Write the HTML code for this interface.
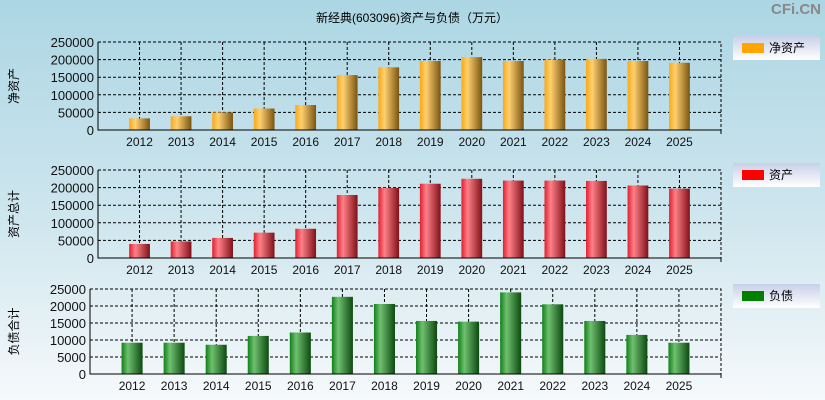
<!DOCTYPE html>
<html><head><meta charset="utf-8"><style>
body{margin:0;width:825px;height:400px;overflow:hidden;font-family:"Liberation Sans","Noto Sans CJK SC",sans-serif;}
#c{display:block;background:linear-gradient(#acd6e4,#cfe6ee 55%,#f6f9fb);}
</style></head><body>
<svg id="c" width="825" height="400" xmlns="http://www.w3.org/2000/svg">
<defs>
<linearGradient id="gO" x1="0" x2="1"><stop offset="0" stop-color="#f8a818"/><stop offset="0.3" stop-color="#ffd070"/><stop offset="1" stop-color="#7a5410"/></linearGradient>
<linearGradient id="gR" x1="0" x2="1"><stop offset="0" stop-color="#e02030"/><stop offset="0.3" stop-color="#ff8088"/><stop offset="1" stop-color="#801018"/></linearGradient>
<linearGradient id="gG" x1="0" x2="1"><stop offset="0" stop-color="#108018"/><stop offset="0.3" stop-color="#70c070"/><stop offset="1" stop-color="#0c4a10"/></linearGradient>
<linearGradient id="gL" x1="0" x2="0" y1="0" y2="1"><stop offset="0" stop-color="#c8d0e8"/><stop offset="1" stop-color="#ffffff"/></linearGradient>
</defs>
<text x="412" y="22" font-size="12" text-anchor="middle">新经典(603096)资产与负债（万元）</text>
<text x="821" y="14" font-size="15" font-weight="bold" fill="#888" text-anchor="end">CFi.CN</text>
<g id="g"></g>
</svg>
<script>
const years=["2012","2013","2014","2015","2016","2017","2018","2019","2020","2021","2022","2023","2024","2025"];
const netAssets=[33000,39000,50000,61000,71000,156000,178000,196000,207000,196000,200000,202000,196000,191000];
const totalAssets=[40000,47000,57000,72000,83000,179000,199000,211000,225000,220000,220000,219000,206000,197000];
const liabilities=[9200,9200,8600,11200,12200,22700,20600,15600,15400,24000,20500,15600,11500,9200];
const ticksBig=[0,50000,100000,150000,200000,250000];
const ticksSmall=[0,5000,10000,15000,20000,25000];
const NS="http://www.w3.org/2000/svg";
const g=document.getElementById('g');
function mk(t,a,p){const e=document.createElementNS(NS,t);for(const k in a)e.setAttribute(k,a[k]);(p||g).appendChild(e);return e;}
const panels=[
 {vals:netAssets,ticks:ticksBig,max:250000,x0:98,x1:721,y0:42,y1:130,fill:"url(#gO)",title:"净资产",legend:"净资产",lc:"#ffa500",ly:36,key:"net-assets"},
 {vals:totalAssets,ticks:ticksBig,max:250000,x0:98,x1:721,y0:170,y1:258,fill:"url(#gR)",title:"资产总计",legend:"资产",lc:"#ff0000",ly:163,key:"total-assets"},
 {vals:liabilities,ticks:ticksSmall,max:25000,x0:90,x1:721,y0:289,y1:374,fill:"url(#gG)",title:"负债合计",legend:"负债",lc:"#008000",ly:284,key:"liabilities"}
];
panels.forEach(p=>{
 const pg=mk('g',{});
 
 
 const slot=(p.x1-p.x0)/15;
 const X=i=>p.x0+(i+1)*slot;
 const Y=v=>p.y1-(v/p.max)*(p.y1-p.y0);
 p.ticks.forEach(t=>{
  if(t>0){const l=mk('line',{x1:p.x0,x2:p.x1,y1:Y(t),y2:Y(t),stroke:'#000','stroke-dasharray':'3,2','stroke-width':1},pg);
   }
  const tx=mk('text',{x:p.x0-4,y:Y(t)+5,'font-size':13,'text-anchor':'end',fill:'#111'},pg);tx.textContent=t;
  
 });
 years.forEach((y,i)=>{
  const l=mk('line',{x1:X(i),x2:X(i),y1:p.y0,y2:p.y1,stroke:'#000','stroke-dasharray':'3,2'},pg);
  
  const tx=mk('text',{x:X(i),y:p.y1+16,'font-size':12,'text-anchor':'middle',fill:'#111'},pg);tx.textContent=y;
  
  const w=slot*0.5,v=p.vals[i];
  const b=mk('rect',{x:X(i)-w/2,y:Y(v),width:w,height:p.y1-Y(v),fill:p.fill},pg);
  
 });
 const fd=mk('path',{d:`M${p.x0} ${p.y0}H${p.x1}V${p.y1}`,stroke:'#000',fill:'none','stroke-dasharray':'3,2'},pg);
 
 const f=mk('path',{d:`M${p.x0} ${p.y0}V${p.y1}H${p.x1}V${p.y1+4}`,stroke:'#000',fill:'none'},pg);
 
 const tt=mk('text',{x:0,y:0,'font-size':12,'text-anchor':'middle',transform:`translate(18,${(p.y0+p.y1)/2}) rotate(-90)`},pg);tt.textContent=p.title;
 
 const lg=mk('g',{},pg);
 
 mk('rect',{x:733,y:p.ly,width:87,height:24,fill:'url(#gL)'},lg);
 mk('rect',{x:742,y:p.ly+7,width:22,height:10,fill:p.lc},lg);
 const lt=mk('text',{x:769,y:p.ly+16,'font-size':12},lg);lt.textContent=p.legend;
});
</script>
</body></html>
